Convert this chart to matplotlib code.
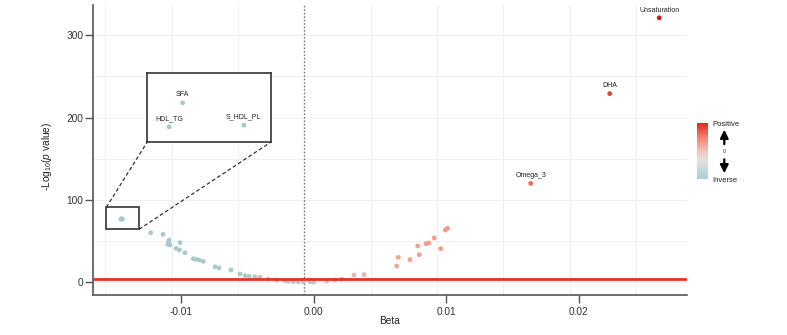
import matplotlib
matplotlib.use("Agg")
import matplotlib.pyplot as plt
import numpy as np
from matplotlib.colors import LinearSegmentedColormap, Normalize
from matplotlib.patches import Rectangle, FancyArrowPatch

plt.rcParams['font.family'] = ['Liberation Sans', 'DejaVu Sans']
plt.rcParams['mathtext.fontset'] = 'custom'
plt.rcParams['mathtext.rm'] = 'Liberation Sans'
plt.rcParams['mathtext.it'] = 'Liberation Sans:italic'

# ---------------- data ----------------
beta = [-0.01451, -0.01449, -0.01440,
        -0.01227, -0.01134, -0.01089, -0.01094, -0.01099, -0.01082, -0.01006,
        -0.01036, -0.01011, -0.00969, -0.00906, -0.00886, -0.00861, -0.00831,
        -0.00742, -0.00712, -0.00622, -0.00554, -0.00516, -0.00484, -0.00441,
        -0.00403, -0.00341, -0.00277, -0.00215, -0.00190, -0.00152, -0.00115,
        -0.00077, -0.00026, 0.00000, 0.00100, 0.00162, 0.00212, 0.00305,
        0.00381, 0.00627, 0.00639, 0.00727, 0.00785, 0.00797, 0.00848,
        0.00868, 0.00910, 0.00959, 0.00994, 0.01009,
        0.01637, 0.02233, 0.02606]
neglogp = [76.6, 77.3, 76.65,
           60.2, 58.2, 51.3, 48.5, 46.1, 45.3, 48.1,
           41.3, 39.2, 35.9, 28.6, 27.9, 27.1, 25.5,
           18.9, 17.4, 14.9, 10.1, 8.0, 7.3, 6.8,
           6.0, 4.0, 2.8, 2.0, 1.2, 0.7, 0.7,
           0.4, 0.7, 0.4, 1.6, 2.8, 4.0, 8.9,
           9.3, 19.8, 30.3, 27.5, 44.1, 33.5, 46.9,
           47.7, 53.8, 40.8, 63.5, 65.5,
           120.0, 229.0, 321.0]

main_labels = ["Omega_3", "DHA", "Unsaturation"]
main_label_beta = [0.01637, 0.02233, 0.02606]
main_label_p = [120.0, 229.0, 321.0]

inset_labels = ["HDL_TG", "SFA", "S_HDL_PL"]
inset_beta = [-0.01451, -0.01449, -0.01440]
inset_p = [76.6, 77.3, 76.65]

threshold = 4.0
zero_line = -0.00072
xticks = [-0.01, 0.0, 0.01, 0.02]
xticklabels = ["-0.01", "0.00", "0.01", "0.02"]
yticks = [0, 100, 200, 300]

# ---------------- style ----------------
pt_cmap = LinearSegmentedColormap.from_list("pts", [
    (0.0, '#a5cbcf'), (0.268, '#b0c8cb'), (0.366, '#c4c2c8'),
    (0.463, '#e9b4aa'), (0.537, '#f2a58f'), (0.61, '#f09a84'),
    (0.766, '#f06a5e'), (0.912, '#e5433a'), (1.0, '#d7191c')])
pt_norm = Normalize(vmin=-0.015, vmax=0.026)
bar_cmap = LinearSegmentedColormap.from_list("bar", [
    (0.0, '#a8d0d8'), (0.33, '#e3e3e3'), (0.5, '#f3c4bc'),
    (0.75, '#f2806e'), (1.0, '#e3271f')])

fig = plt.figure(figsize=(7.87, 3.35), dpi=100)
ax = fig.add_axes([0.1182, 0.1194, 0.7547, 0.8656])
ax.set_xlim(-0.01662, 0.02815)
ax.set_ylim(-15.4, 336.5)

# grid
for gx in np.arange(-0.0157, 0.0260, 0.005):
    ax.axvline(gx, color='#efefef', lw=0.7, zorder=0)
for gy in range(0, 301, 50):
    ax.axhline(gy, color='#efefef', lw=0.7, zorder=0)

ax.axvline(zero_line, color='#707070', lw=1.0, ls=(0, (1, 1.5)), zorder=1)

ax.scatter(beta, neglogp, c=beta, cmap=pt_cmap, norm=pt_norm, s=12,
           linewidths=0, zorder=3)
ax.axhline(threshold, color='#e8302a', lw=2, zorder=4)

for lab, bx, py in zip(main_labels, main_label_beta, main_label_p):
    ax.annotate(lab, (bx, py), xytext=(0, 5.6), textcoords='offset points',
                ha='center', va='center', fontsize=5, color='#222222')

# spines / ticks
for s in ['top', 'right']:
    ax.spines[s].set_visible(False)
for s in ['left', 'bottom']:
    ax.spines[s].set_color('#555555')
    ax.spines[s].set_linewidth(1.2)
ax.set_xticks(xticks)
ax.set_xticklabels(xticklabels)
ax.set_yticks(yticks)
ax.tick_params(axis='both', length=6, width=1, color='#555555',
               labelsize=7.3, labelcolor='#333333')
ax.tick_params(axis='x', pad=2.5)
ax.tick_params(axis='y', pad=1)
ax.set_xlabel("Beta", fontsize=7.3, color='#222222')
ax.xaxis.set_label_coords(0.5, -0.072)
ax.set_ylabel(r"-Log$_{\mathrm{10}}$($\mathit{p}$ value)", fontsize=7.3,
              color='#222222')
ax.yaxis.set_label_coords(-0.066, 0.479)

# zoom box and connectors
ax.add_patch(Rectangle((-0.01562, 64.3), 0.00247, 26.7, fill=False,
                       ec='#333333', lw=1.2, zorder=5))
ax.plot([-0.01562, -0.01253], [91, 170.3], ls=(0, (3, 2)), color='#333333',
        lw=0.9, zorder=5, clip_on=False)
ax.plot([-0.01315, -0.0032], [64.3, 170.3], ls=(0, (3, 2)), color='#333333',
        lw=0.9, zorder=5, clip_on=False)

axins = ax.inset_axes([-0.01253, 170.3, 0.00933, 83.3], transform=ax.transData,
                      zorder=6)
axins.set_facecolor('white')
axins.set_xlim(-0.014542, -0.01436)
axins.set_ylim(76.16, 78.16)
axins.scatter(inset_beta, inset_p, c=inset_beta, cmap=pt_cmap, norm=pt_norm,
              s=12, linewidths=0)
for lab, bx, py in zip(inset_labels, inset_beta, inset_p):
    axins.annotate(lab, (bx, py), xytext=(0, 5.8), textcoords='offset points',
                   ha='center', va='center', fontsize=5, color='#222222')
axins.set_xticks([])
axins.set_yticks([])
for s in axins.spines.values():
    s.set_color('#333333')
    s.set_linewidth(1.2)

# colour legend
cax = fig.add_axes([697.3 / 787, (335 - 179.3) / 335, 11 / 787, 56 / 335])
grad = np.linspace(0, 1, 256).reshape(-1, 1)
cax.imshow(grad, aspect='auto', cmap=bar_cmap, origin='lower',
           extent=[0, 1, 0, 1])
cax.axis('off')
fig.text(712.7 / 787, (335 - 124) / 335, "Positive", fontsize=5.5,
         ha='left', va='center', color='#222222')
fig.text(712.7 / 787, (335 - 181) / 335, "Inverse", fontsize=5.5,
         ha='left', va='center', color='#222222')
ax_x = 724.3 / 787
for y0, y1 in [((335 - 147) / 335, (335 - 127) / 335),
               ((335 - 156.5) / 335, (335 - 176) / 335)]:
    fig.add_artist(FancyArrowPatch((ax_x, y0), (ax_x, y1),
                                   transform=fig.transFigure,
                                   arrowstyle='-|>,head_length=1.2,head_width=0.6',
                                   mutation_scale=4, lw=1.6, color='black'))
fig.text(ax_x, (335 - 151.7) / 335, "0", fontsize=3.5, ha='center',
         va='center', color='#222222')

fig.savefig("out.png", dpi=100)
